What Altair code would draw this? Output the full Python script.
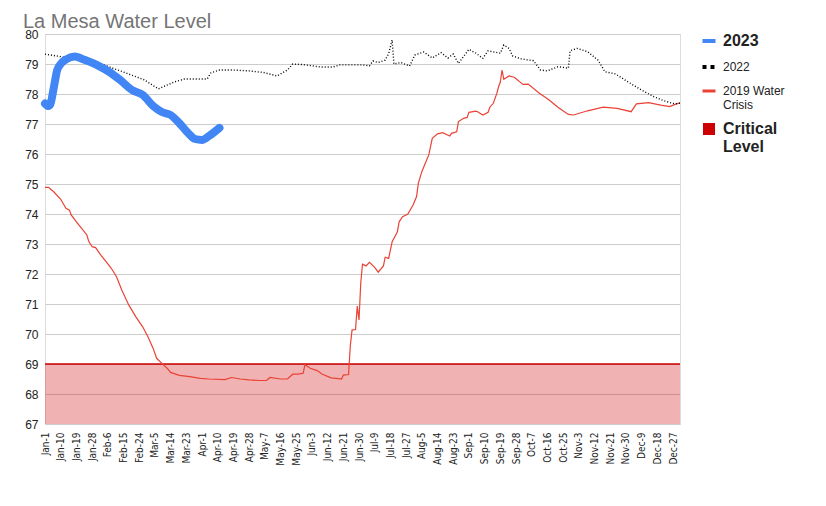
import altair as alt
import pandas as pd

# Reservoir level (ft) by day of year; day 0 = Jan-1
days_2023 = [0, 2, 3, 5, 7, 9, 12, 17, 23, 31, 37, 43, 50, 56, 62, 67, 72, 77, 82, 86, 90, 94, 100]
level_2023 = [77.68, 77.6, 77.65, 78.2, 78.8, 79.0, 79.15, 79.25, 79.13, 78.93, 78.73, 78.47,
              78.13, 77.97, 77.6, 77.4, 77.3, 77.03, 76.7, 76.5, 76.47, 76.6, 76.87]

days_2022 = [0, 17, 31, 45, 57, 65, 74, 80, 93, 95, 100, 107, 117, 125, 133, 139, 142, 148,
             158, 165, 169, 182, 186, 188, 191, 195, 197, 199, 200, 204, 209, 212, 217, 222,
             227, 231, 234, 237, 243, 247, 251, 254, 261, 263, 266, 268, 273, 280, 284, 288,
             294, 300, 301, 305, 311, 317, 321, 327, 334, 342, 349, 355, 361, 364]
level_2022 = [79.33, 79.17, 79.03, 78.73, 78.47, 78.17, 78.4, 78.5, 78.5, 78.7, 78.8, 78.8,
              78.77, 78.72, 78.6, 78.8, 79.0, 78.98, 78.9, 78.9, 78.97, 78.97, 78.94, 79.1,
              79.05, 79.13, 79.35, 79.8, 79.0, 79.05, 78.93, 79.3, 79.4, 79.2, 79.38, 79.2,
              79.33, 79.02, 79.49, 79.36, 79.19, 79.44, 79.36, 79.63, 79.52, 79.27, 79.17,
              79.11, 78.8, 78.77, 78.91, 78.86, 79.44, 79.52, 79.41, 79.13, 78.74, 78.67,
              78.41, 78.13, 77.91, 77.77, 77.67, 77.69]

days_2019 = [0, 2, 5, 9, 12, 14, 15, 18, 21, 24, 25, 27, 29, 32, 35, 38, 41, 44, 48, 52, 56,
             59, 62, 64, 67, 70, 72, 77, 83, 89, 94, 103, 107, 112, 117, 123, 127, 129, 135,
             139, 142, 145, 148, 149, 152, 156, 159, 164, 167, 170, 171, 174, 175, 176, 178,
             179, 180, 181, 182, 184, 186, 189, 191, 194, 195, 197, 199, 202, 203, 205, 208,
             211, 213, 214, 216, 218, 220, 222, 225, 228, 232, 233, 236, 237, 240, 242, 243,
             247, 248, 251, 254, 255, 257, 259, 260, 261, 262, 263, 266, 269, 274, 277, 283,
             289, 294, 300, 303, 311, 320, 328, 336, 339, 346, 353, 358, 362, 364]
level_2019 = [74.89, 74.89, 74.74, 74.49, 74.19, 74.13, 73.97, 73.74, 73.52, 73.3, 73.1, 72.91,
              72.88, 72.63, 72.41, 72.19, 71.91, 71.47, 70.97, 70.58, 70.24, 69.91, 69.52,
              69.19, 69.02, 68.86, 68.72, 68.62, 68.58, 68.52, 68.5, 68.48, 68.55, 68.5, 68.47,
              68.45, 68.45, 68.55, 68.5, 68.5, 68.66, 68.66, 68.69, 68.98, 68.86, 68.78, 68.66,
              68.54, 68.52, 68.5, 68.63, 68.65, 69.6, 70.13, 70.15, 70.93, 70.47, 71.7, 72.33,
              72.27, 72.39, 72.22, 72.06, 72.27, 72.56, 72.52, 73.08, 73.41, 73.74, 73.91, 74.0,
              74.3, 74.58, 75.02, 75.41, 75.69, 75.97, 76.52, 76.67, 76.71, 76.6, 76.69, 76.74,
              77.08, 77.19, 77.22, 77.39, 77.43, 77.41, 77.3, 77.39, 77.56, 77.69, 78.02, 78.24,
              78.4, 78.8, 78.49, 78.6, 78.56, 78.32, 78.33, 78.04, 77.8, 77.56, 77.32, 77.3,
              77.44, 77.56, 77.52, 77.41, 77.67, 77.71, 77.63, 77.58, 77.67, 77.71]

critical_days = [0, 364]
critical_level = [69, 69]
axis_floor = 67
axis_top = 80

tick_days = list(range(0, 361, 9))
series_names = ["2023", "2022", "2019 Water Crisis", "Critical Level"]
series_colors = ["#4285f4", "#000000", "#ea4335", "#cc0000"]


def frame(days, levels, name):
    return pd.DataFrame({"day": days, "level": levels, "series": name})


df_2023 = frame(days_2023, level_2023, "2023")
df_2022 = frame(days_2022, level_2022, "2022")
df_2019 = frame(days_2019, level_2019, "2019 Water Crisis")
df_crit = frame(critical_days, critical_level, "Critical Level")

FONT = "Liberation Sans"
NARROW = "Liberation Sans Narrow, DejaVu Sans Condensed, Liberation Sans, sans-serif"

x_enc = alt.X(
    "day:Q",
    scale=alt.Scale(domain=[0, 364], nice=False, zero=False),
    axis=alt.Axis(
        values=tick_days,
        labelExpr="timeFormat(datetime(2022, 0, 1 + datum.value), '%b-%-d')",
        labelAngle=270,
        labelFlush=False,
        labelOverlap=False,
        labelFont=NARROW,
        labelFontSize=10,
        labelColor="#222222",
        labelPadding=8,
        grid=False,
        ticks=False,
        domain=False,
        title=None,
    ),
)
y_enc = alt.Y(
    "level:Q",
    scale=alt.Scale(domain=[axis_floor, axis_top], nice=False, zero=False),
    axis=alt.Axis(
        values=list(range(axis_floor, axis_top + 1)),
        grid=True,
        gridColor="#cccccc",
        ticks=False,
        domain=False,
        labelFont=FONT,
        labelFontSize=12,
        labelColor="#222222",
        labelPadding=7,
        title=None,
    ),
)

big = "datum.value === '2023' || datum.value === 'Critical Level'"
legend = alt.Legend(
    title=None,
    orient="none",
    legendX=658,
    legendY=1,
    padding=0,
    rowPadding=10,
    labelOffset=8,
    labelFont=FONT,
    labelColor="#222222",
    labelLimit=200,
    labelFontSize={"expr": f"{big} ? 16 : 12"},
    labelFontWeight={"expr": f"{big} ? 'bold' : 'normal'"},
    labelExpr=(
        "datum.value === '2019 Water Crisis' ? ['2019 Water', 'Crisis'] : "
        "datum.value === 'Critical Level' ? ['Critical', 'Level'] : datum.label"
    ),
    symbolType={"expr": "datum.value === 'Critical Level' ? 'square' : 'stroke'"},
    symbolSize={"expr": "datum.value === 'Critical Level' ? 144 : 169"},
    symbolStrokeWidth={"expr": "datum.value === 'Critical Level' ? 0 : datum.value === '2019 Water Crisis' ? 3 : 4"},
    symbolDash={"expr": "datum.value === '2022' ? [4, 4] : [1, 0]"},
    symbolFillColor="#cc0000",
    symbolOpacity=1,
)
color_enc = alt.Color(
    "series:N",
    scale=alt.Scale(domain=series_names, range=series_colors),
    legend=legend,
)

critical_area = alt.Chart(df_crit).mark_area(fillOpacity=0.3).encode(
    x=x_enc, y=y_enc, y2=alt.datum(axis_floor), color=color_enc
)
critical_edge = alt.Chart(df_crit).mark_line(color="#cc0000", strokeWidth=1.5).encode(
    x=x_enc, y=y_enc
)
line_2019 = alt.Chart(df_2019).mark_line(strokeWidth=1.2).encode(
    x=x_enc, y=y_enc, color=color_enc
)
line_2022 = alt.Chart(df_2022).mark_line(strokeWidth=1.4, strokeDash=[1, 2]).encode(
    x=x_enc, y=y_enc, color=color_enc
)
line_2023 = alt.Chart(df_2023).mark_line(
    strokeWidth=8, interpolate="monotone", strokeCap="round", strokeJoin="round"
).encode(x=x_enc, y=y_enc, color=color_enc)

chart = (
    alt.layer(critical_area, critical_edge, line_2019, line_2022, line_2023)
    .properties(
        width=635,
        height=390,
        autosize="none",
        padding={"left": 45, "top": 34, "right": 146, "bottom": 82},
        title=alt.Title(
            "La Mesa Water Level",
            anchor="start",
            frame="group",
            font=FONT,
            fontSize=20,
            fontWeight="normal",
            color="#757575",
            dx=-22,
            dy=4,
            offset=0,
        ),
    )
    .configure_view(stroke=None)
    .configure(background="white")
)

chart.save("out.html", embed_options={"renderer": "svg", "actions": False})
